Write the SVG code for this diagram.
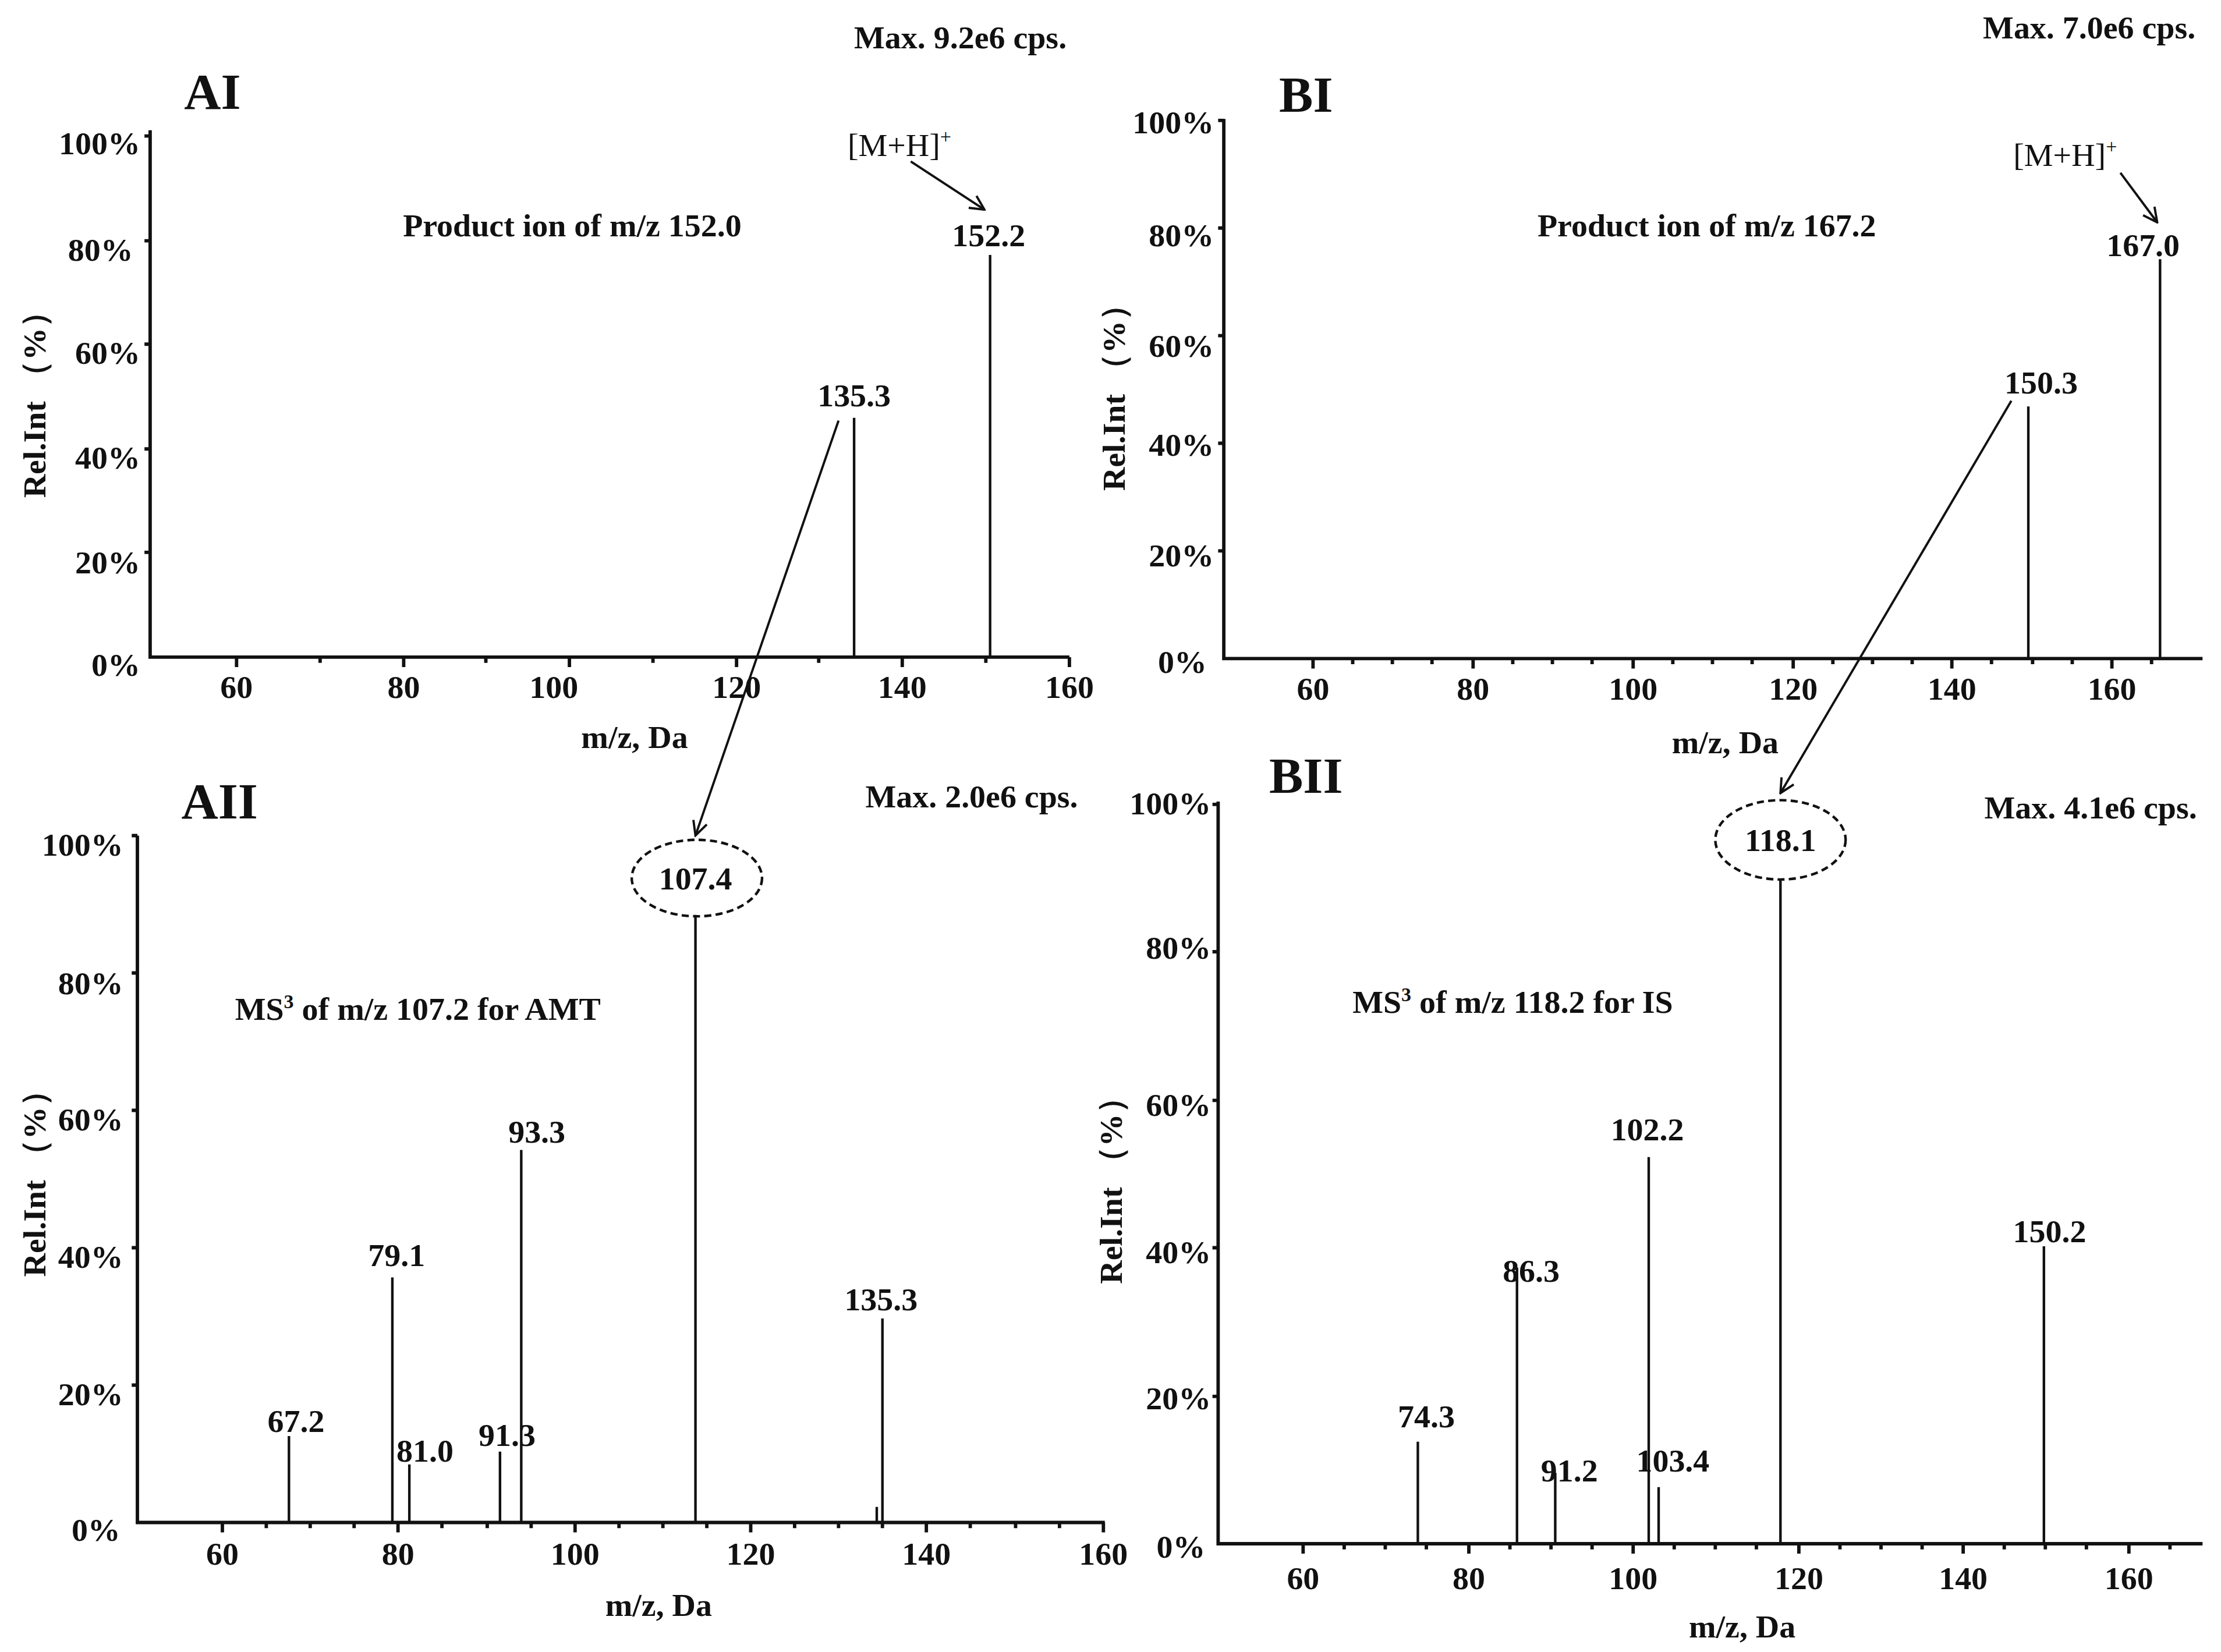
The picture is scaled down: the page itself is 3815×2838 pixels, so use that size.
<svg xmlns="http://www.w3.org/2000/svg" width="3815" height="2838" viewBox="0 0 3815 2838">
<style>
text{font-family:"Liberation Serif","Times New Roman",serif;font-weight:bold;fill:#111;font-size:23px}
.c{text-anchor:middle}
.r{text-anchor:end}
.t{font-size:36px}
.n{font-weight:normal}
.ax{stroke:#111;stroke-width:2.4;fill:none}
.pk{stroke:#111;stroke-width:1.8;fill:none}
.ar{stroke:#111;stroke-width:1.6;fill:none;marker-end:url(#ah)}
.el{stroke:#111;stroke-width:1.8;fill:none;stroke-dasharray:5 3}
</style>
<defs>
<marker id="ah" viewBox="0 0 12 12" refX="11" refY="6" markerWidth="12" markerHeight="12" markerUnits="userSpaceOnUse" orient="auto"><path d="M1,1 L11,6 L1,11" fill="none" stroke="#111" stroke-width="1.6"/></marker>
</defs>
<rect width="3815" height="2838" fill="#fff"/>
<g transform="scale(2.433)">
<g id="panelAI">
<path class="ax" d="M106,92 V464 H755"/>
<path class="ax" d="M167,464v7M226,464v4M285,464v7M343,464v4M402,464v7M461,464v4M520,464v7M578,464v4M637,464v7M696,464v4M755,464v7"/>
<path class="ax" d="M106,96h-4M106,170h-4M106,243h-4M106,317h-4M106,390h-4"/>
<g class="c"><text x="167" y="493">60</text><text x="285" y="493">80</text><text x="391" y="493">100</text><text x="520" y="493">120</text><text x="637" y="493">140</text><text x="755" y="493">160</text></g>
<g class="r"><text x="99" y="109">100%</text><text x="94" y="184">80%</text><text x="99" y="257">60%</text><text x="99" y="331">40%</text><text x="99" y="405">20%</text><text x="99" y="477">0%</text></g>
<text class="c" transform="translate(32,280) rotate(-90)">Rel.Int （%）</text>
<text class="c" x="448" y="528">m/z, Da</text>
<text class="t" x="130" y="77">AI</text>
<text class="c" x="678" y="34">Max. 9.2e6 cps.</text>
<text class="c" x="404" y="167">Product ion of m/z 152.0</text>
<path class="pk" d="M603,464V295M699,464V180"/>
<text class="c" x="603" y="287">135.3</text>
<text class="c" x="698" y="174">152.2</text>
<text class="c n" x="635" y="110">[M+H]<tspan font-size="14" dy="-9">+</tspan></text>
</g>
<g id="panelAII">
<path class="ax" d="M97,590 V1075 H780"/>
<path class="ax" d="M157,1075v7M188,1075v4M219,1075v4M250,1075v4M281,1075v7M312,1075v4M344,1075v4M375,1075v4M406,1075v7M437,1075v4M468,1075v4M499,1075v4M530,1075v7M561,1075v4M592,1075v4M623,1075v4M654,1075v7M685,1075v4M717,1075v4M748,1075v4M779,1075v7"/>
<path class="ax" d="M97,590h-4M97,687h-4M97,784h-4M97,881h-4M97,978h-4"/>
<g class="c"><text x="157" y="1105">60</text><text x="281" y="1105">80</text><text x="406" y="1105">100</text><text x="530" y="1105">120</text><text x="654" y="1105">140</text><text x="779" y="1105">160</text></g>
<g class="r"><text x="87" y="604">100%</text><text x="87" y="702">80%</text><text x="87" y="798">60%</text><text x="87" y="895">40%</text><text x="87" y="992">20%</text><text x="85" y="1088">0%</text></g>
<text class="c" transform="translate(32,830) rotate(-90)">Rel.Int （%）</text>
<text class="c" x="465" y="1141">m/z, Da</text>
<text class="t" x="128" y="578">AII</text>
<text class="c" x="686" y="570">Max. 2.0e6 cps.</text>
<text class="c" x="295" y="720">MS<tspan font-size="14" dy="-8">3</tspan><tspan dy="8"> of m/z 107.2 for AMT</tspan></text>
<path class="pk" d="M204,1075V1014M277,1075V902M289,1075V1034M353,1075V1025M368,1075V812M491,1075V646M623,1075V931M619,1075V1064"/>
<ellipse class="el" cx="492" cy="620" rx="46" ry="27"/>
<text class="c" x="491" y="628">107.4</text>
<text class="c" x="209" y="1011">67.2</text>
<text class="c" x="280" y="894">79.1</text>
<text class="c" x="300" y="1032">81.0</text>
<text class="c" x="358" y="1021">91.3</text>
<text class="c" x="379" y="807">93.3</text>
<text class="c" x="622" y="925">135.3</text>
</g>
<g id="panelBI">
<path class="ax" d="M864,84 V465 H1555"/>
<path class="ax" d="M927,465v7M955,465v4M983,465v4M1011,465v4M1040,465v7M1068,465v4M1096,465v4M1124,465v4M1153,465v7M1181,465v4M1209,465v4M1237,465v4M1266,465v7M1294,465v4M1322,465v4M1350,465v4M1378,465v7M1406,465v4M1435,465v4M1463,465v4M1491,465v7M1519,465v4"/>
<path class="ax" d="M864,85h-4M864,161h-4M864,237h-4M864,313h-4M864,389h-4"/>
<g class="c"><text x="927" y="494">60</text><text x="1040" y="494">80</text><text x="1153" y="494">100</text><text x="1266" y="494">120</text><text x="1378" y="494">140</text><text x="1491" y="494">160</text></g>
<g class="r"><text x="857" y="94">100%</text><text x="857" y="174">80%</text><text x="857" y="252">60%</text><text x="857" y="322">40%</text><text x="857" y="400">20%</text><text x="852" y="475">0%</text></g>
<text class="c" transform="translate(794,275) rotate(-90)">Rel.Int （%）</text>
<text class="c" x="1218" y="532">m/z, Da</text>
<text class="t" x="903" y="79">BI</text>
<text class="c" x="1475" y="27">Max. 7.0e6 cps.</text>
<text class="c" x="1205" y="167">Product ion of m/z 167.2</text>
<path class="pk" d="M1432,465V287M1525,465V183"/>
<text class="c" x="1441" y="278">150.3</text>
<text class="c" x="1513" y="181">167.0</text>
<text class="c n" x="1458" y="117">[M+H]<tspan font-size="14" dy="-9">+</tspan></text>
</g>
<g id="panelBII">
<path class="ax" d="M860,566 V1090 H1555"/>
<path class="ax" d="M920,1090v7M949,1090v4M978,1090v4M1007,1090v4M1037,1090v7M1066,1090v4M1095,1090v4M1124,1090v4M1153,1090v7M1182,1090v4M1211,1090v4M1240,1090v4M1270,1090v7M1299,1090v4M1328,1090v4M1357,1090v4M1386,1090v7M1415,1090v4M1444,1090v4M1473,1090v4M1503,1090v7M1532,1090v4"/>
<path class="ax" d="M860,568h-4M860,672h-4M860,777h-4M860,881h-4M860,986h-4"/>
<g class="c"><text x="920" y="1122">60</text><text x="1037" y="1122">80</text><text x="1153" y="1122">100</text><text x="1270" y="1122">120</text><text x="1386" y="1122">140</text><text x="1503" y="1122">160</text></g>
<g class="r"><text x="855" y="575">100%</text><text x="855" y="677">80%</text><text x="855" y="788">60%</text><text x="855" y="892">40%</text><text x="855" y="995">20%</text><text x="851" y="1100">0%</text></g>
<text class="c" transform="translate(792,835) rotate(-90)">Rel.Int （%）</text>
<text class="c" x="1230" y="1156">m/z, Da</text>
<text class="t" x="896" y="560">BII</text>
<text class="c" x="1476" y="578">Max. 4.1e6 cps.</text>
<text class="c" x="1068" y="715">MS<tspan font-size="14" dy="-8">3</tspan><tspan dy="8"> of m/z 118.2 for IS</tspan></text>
<path class="pk" d="M1001,1090V1018M1071,1090V895M1098,1090V1040M1164,1090V817M1171,1090V1050M1257,1090V621M1443,1090V880"/>
<ellipse class="el" cx="1257" cy="593" rx="46" ry="28"/>
<text class="c" x="1257" y="601">118.1</text>
<text class="c" x="1007" y="1008">74.3</text>
<text class="c" x="1081" y="905">86.3</text>
<text class="c" x="1108" y="1046">91.2</text>
<text class="c" x="1163" y="805">102.2</text>
<text class="c" x="1181" y="1039">103.4</text>
<text class="c" x="1447" y="877">150.2</text>
</g>
<g id="connectors">
<path class="ar" d="M643,114 L695,148"/>
<path class="ar" d="M1497,122 L1523,157"/>
<path class="ar" d="M592,297 L491,590"/>
<path class="ar" d="M1420,283 L1257,560"/>
</g>
</g>
</svg>
